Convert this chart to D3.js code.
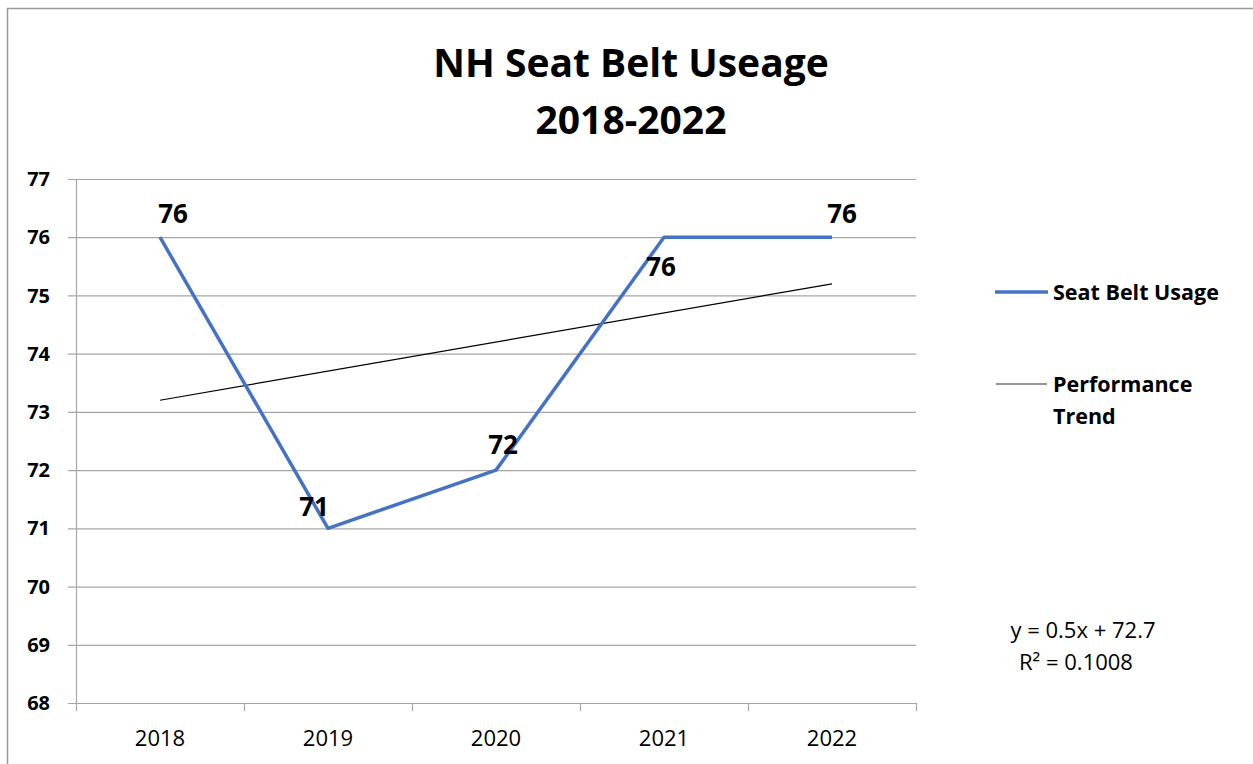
<!DOCTYPE html>
<html>
<head>
<meta charset="utf-8">
<script src="https://cdn.jsdelivr.net/npm/d3@7"></script>
<style>
  body { margin: 0; background: #fff; }
  text { font-family: "Open Sans", "Noto Sans", sans-serif; }
</style>
</head>
<body>
<div id="chart"></div>
<script>
// data
const years = ["2018", "2019", "2020", "2021", "2022"];
const usage = [76, 71, 72, 76, 76];
const yTicks = [68, 69, 70, 71, 72, 73, 74, 75, 76, 77];
const trendSlope = 0.5;
const trendIntercept = 72.7;
const rSquared = 0.1008;

// where each data label sits relative to its point (style only)
const labelOffsets = [[13, -14], [-14, -12], [7, -16], [-3, 39], [10, -14]];

const width = 1253, height = 764;
const margin = { top: 179, right: 337, bottom: 61, left: 76 };

const svg = d3.select("#chart").append("svg")
    .attr("width", width)
    .attr("height", height);

// outer chart frame (runs off the right and bottom edges)
svg.append("rect")
    .attr("x", 7.5).attr("y", 8.5)
    .attr("width", 1300).attr("height", 800)
    .attr("fill", "none")
    .attr("stroke", "#9a9a9a")
    .attr("stroke-width", 1.5);

const x = d3.scaleBand()
    .domain(years)
    .range([margin.left, width - margin.right]);

const y = d3.scaleLinear()
    .domain([68, 77])
    .range([height - margin.bottom, margin.top]);

// gridlines + y axis
const yAxis = d3.axisLeft(y)
    .tickValues(yTicks)
    .tickSize(-(width - margin.right - margin.left + 8))
    .tickPadding(18)
    .tickFormat(d3.format("d"));

const gy = svg.append("g")
    .attr("transform", `translate(${margin.left - 8},0)`)
    .call(yAxis);
gy.select(".domain").remove();
gy.selectAll(".tick line").attr("stroke", "#a6a6a6").attr("stroke-width", 1.2);
gy.selectAll(".tick text")
    .attr("fill", "#000")
    .style("font-size", "20px")
    .style("font-weight", "bold")
    .attr("dy", "0.33em");

// vertical axis line
svg.append("line")
    .attr("x1", margin.left + 0.5).attr("x2", margin.left + 0.5)
    .attr("y1", y(77)).attr("y2", y(68) + 8)
    .attr("stroke", "#a6a6a6").attr("stroke-width", 1.2);

// x axis: ticks between categories
const gx = svg.append("g")
    .attr("transform", `translate(0,${y(68)})`);
gx.selectAll("line.sep")
    .data(years)
    .join("line")
    .attr("class", "sep")
    .attr("x1", d => x(d) + x.bandwidth() + 0.5)
    .attr("x2", d => x(d) + x.bandwidth() + 0.5)
    .attr("y1", 0).attr("y2", 8)
    .attr("stroke", "#a6a6a6").attr("stroke-width", 1.2);
gx.selectAll("text")
    .data(years)
    .join("text")
    .attr("x", d => x(d) + x.bandwidth() / 2)
    .attr("y", 43)
    .attr("text-anchor", "middle")
    .style("font-size", "22px")
    .attr("fill", "#000")
    .text(d => d);

const cx = d => x(d) + x.bandwidth() / 2;

// trend line (linear fit, x = 1..5)
svg.append("line")
    .attr("x1", cx(years[0]))
    .attr("y1", y(trendSlope * 1 + trendIntercept))
    .attr("x2", cx(years[years.length - 1]))
    .attr("y2", y(trendSlope * years.length + trendIntercept))
    .attr("stroke", "#000")
    .attr("stroke-width", 1.2);

// seat belt usage line
const line = d3.line()
    .x((d, i) => cx(years[i]))
    .y(d => y(d));

svg.append("path")
    .datum(usage)
    .attr("d", line)
    .attr("fill", "none")
    .attr("stroke", "#4472C4")
    .attr("stroke-width", 3.5)
    .attr("stroke-linejoin", "round");

// data labels
svg.selectAll("text.lbl")
    .data(usage)
    .join("text")
    .attr("class", "lbl")
    .attr("x", (d, i) => cx(years[i]) + labelOffsets[i][0])
    .attr("y", (d, i) => y(d) + labelOffsets[i][1])
    .attr("text-anchor", "middle")
    .style("font-size", "26px")
    .style("font-weight", "bold")
    .attr("fill", "#000")
    .text(d => d);

// title
const title = svg.append("text")
    .attr("x", 631)
    .attr("text-anchor", "middle")
    .style("font-size", "39px")
    .style("font-weight", "bold")
    .attr("fill", "#000");
title.append("tspan").attr("x", 631).attr("y", 77).text("NH Seat Belt Useage");
title.append("tspan").attr("x", 631).attr("y", 134).text("2018-2022");

// legend
const legend = svg.append("g");
legend.append("line")
    .attr("x1", 995).attr("x2", 1048)
    .attr("y1", 292).attr("y2", 292)
    .attr("stroke", "#4472C4").attr("stroke-width", 3.5);
legend.append("text")
    .attr("x", 1053).attr("y", 300)
    .style("font-size", "21.5px").style("font-weight", "bold")
    .text("Seat Belt Usage");
legend.append("line")
    .attr("x1", 996).attr("x2", 1047)
    .attr("y1", 384).attr("y2", 384)
    .attr("stroke", "#333").attr("stroke-width", 1.2);
const lt = legend.append("text")
    .style("font-size", "21.5px").style("font-weight", "bold");
lt.append("tspan").attr("x", 1053).attr("y", 392).text("Performance");
lt.append("tspan").attr("x", 1053).attr("y", 424).text("Trend");

// trend equation
svg.append("text")
    .attr("x", 1083).attr("y", 638)
    .attr("text-anchor", "middle")
    .style("font-size", "22px")
    .text(`y = ${trendSlope}x + ${trendIntercept}`);
svg.append("text")
    .attr("x", 1076).attr("y", 670)
    .attr("text-anchor", "middle")
    .style("font-size", "22px")
    .text(`R² = ${rSquared}`);
</script>
</body>
</html>
